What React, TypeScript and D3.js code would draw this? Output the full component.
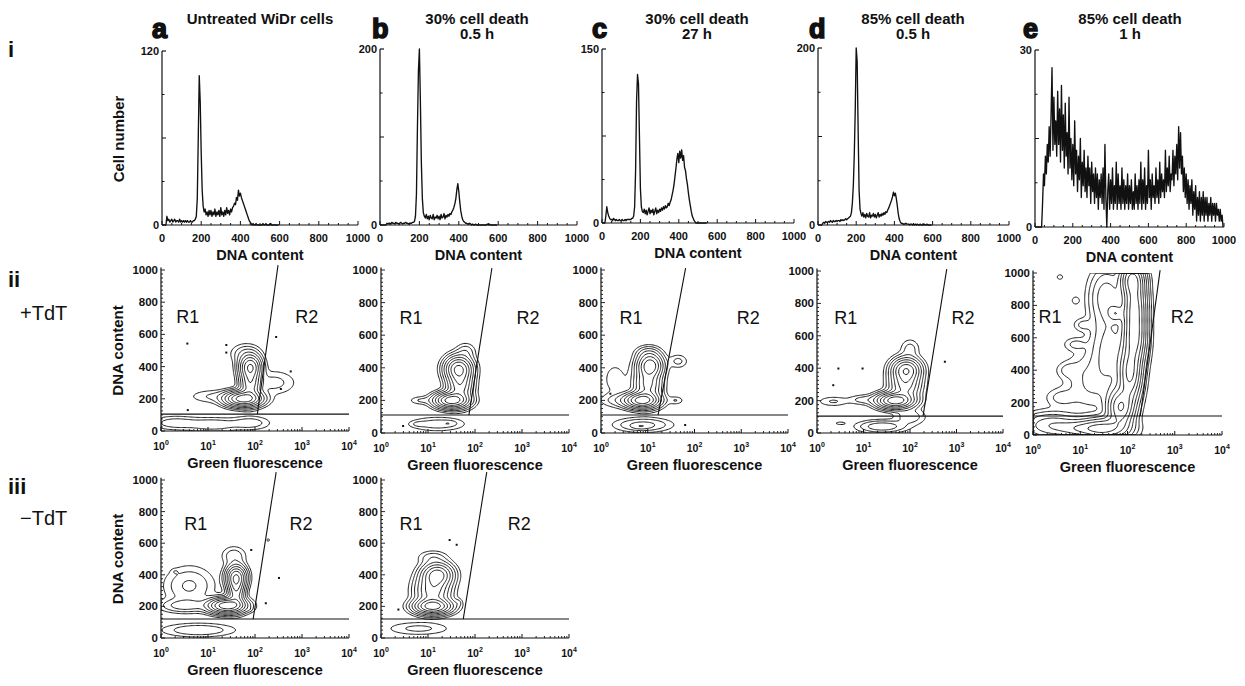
import React from "react";
import * as d3 from "d3";

const W = 1245;
const H = 686;
const FONT = "'Liberation Sans', Arial, Helvetica, sans-serif";
const INK = "#111";

// ---------- row i : DNA histograms, one count every CHANNEL_STEP channels ----------
const CHANNEL_STEP = 5;

const HIST_A = [
  0, 0, 0, 0, 0, 6, 3, 4, 2, 3,
  4, 2, 3, 4, 2, 3, 3, 2, 4, 2,
  3, 2, 3, 2, 3, 2, 3, 2, 2, 3,
  2, 2, 3, 3, 4, 6, 18, 60, 103, 85,
  50, 24, 13, 9, 11, 7, 9, 6, 10, 7,
  10, 6, 9, 7, 11, 6, 9, 7, 10, 6,
  12, 7, 9, 6, 10, 7, 12, 8, 10, 7,
  11, 9, 12, 13, 15, 14, 19, 17, 24, 20,
  22, 19, 17, 15, 13, 11, 9, 7, 5, 3,
  2, 1, 0, 1, 0, 0, 1, 0, 0, 0,
  0, 0, 0, 1, 0, 0, 1, 0, 0, 0,
  0, 1, 0, 0, 0, 0, 0, 0, 0, 0,
];

const HIST_B = [
  0, 0, 0, 0, 0, 0, 0, 2, 1, 2,
  2, 1, 3, 2, 2, 1, 3, 2, 2, 1,
  2, 3, 2, 1, 2, 2, 3, 2, 2, 1,
  2, 2, 2, 3, 3, 4, 10, 35, 110, 175,
  200, 140, 70, 30, 14, 10, 8, 12, 7, 10,
  6, 11, 8, 7, 12, 6, 9, 8, 11, 7,
  10, 6, 12, 8, 9, 13, 7, 11, 9, 12,
  10, 13, 12, 15, 17, 20, 24, 30, 40, 47,
  38, 26, 16, 10, 6, 4, 3, 2, 2, 1,
  1, 2, 1, 0, 1, 0, 0, 1, 0, 0,
  0, 0, 0, 0, 0, 0, 0, 0, 0, 1,
  0, 1, 0, 0, 0, 0, 0, 0, 0, 0,
];

const HIST_C = [
  0, 0, 0, 0, 6, 14, 9, 6, 4, 3,
  3, 2, 4, 3, 2, 3, 2, 2, 3, 2,
  2, 3, 2, 2, 3, 2, 3, 3, 3, 3,
  3, 4, 4, 6, 14, 45, 105, 128, 120, 75,
  30, 14, 10, 9, 12, 8, 11, 7, 10, 13,
  8, 11, 9, 12, 7, 10, 13, 8, 11, 9,
  12, 10, 13, 11, 14, 12, 15, 13, 14, 17,
  15, 18, 20, 24, 28, 33, 40, 47, 55, 60,
  52, 62, 56, 63, 54, 58, 48, 45, 38, 33,
  26, 20, 15, 10, 6, 4, 2, 1, 0, 0,
  0, 0, 0, 0, 0, 0, 0, 0, 0, 0,
];

const HIST_D = [
  0, 0, 0, 0, 0, 2, 3, 2, 4, 3,
  3, 4, 3, 5, 4, 3, 5, 4, 4, 5,
  4, 5, 5, 4, 6, 5, 6, 5, 6, 7,
  6, 7, 8, 9, 10, 14, 25, 45, 80, 130,
  200, 185, 110, 40, 18, 13, 10, 14, 9, 12,
  8, 13, 10, 9, 14, 8, 11, 10, 13, 9,
  12, 8, 11, 14, 9, 12, 10, 13, 11, 14,
  12, 15, 14, 17, 19, 22, 25, 28, 32, 37,
  33, 36, 30, 22, 13, 7, 4, 2, 2, 1,
  1, 1, 2, 1, 1, 1, 0, 1, 1, 0,
  1, 0, 1, 0, 1, 0, 0, 1, 0, 0,
  0, 1, 0, 0, 1, 0, 0, 0, 0, 0,
];

const HIST_E = [
  0, 0, 0, 0, 0, 0, 0, 0, 4, 9,
  7, 12, 9, 14, 11, 17, 12, 19, 27, 13,
  22, 14, 18, 12, 23, 14, 20, 11, 24, 13,
  19, 10, 21, 12, 16, 9, 22, 10, 15, 8,
  14, 7, 18, 9, 13, 6, 12, 8, 15, 5,
  11, 7, 13, 6, 10, 5, 12, 7, 10, 4,
  11, 6, 9, 4, 10, 5, 9, 3, 8, 5,
  9, 4, 10, 3, 14, 5, 0, 6, 9, 3,
  8, 4, 10, 3, 7, 4, 11, 3, 9, 4,
  7, 3, 10, 4, 8, 3, 7, 4, 9, 3,
  7, 4, 8, 3, 6, 3, 9, 4, 7, 3,
  8, 4, 11, 3, 8, 4, 10, 3, 7, 4,
  13, 5, 8, 3, 9, 5, 7, 4, 10, 5,
  8, 4, 11, 5, 9, 6, 8, 5, 13, 6,
  10, 7, 12, 6, 9, 8, 13, 7, 12, 9,
  14, 8, 17, 10, 16, 9, 12, 6, 10, 5,
  9, 4, 8, 3, 7, 4, 8, 2, 6, 3,
  7, 1, 5, 2, 6, 1, 5, 2, 6, 1,
  5, 2, 5, 1, 4, 2, 5, 1, 4, 2,
  4, 1, 4, 2, 3, 1, 3, 1, 2, 0,
];

const HIST_SERIES = [HIST_A, HIST_B, HIST_C, HIST_D, HIST_E];
const HIST_MAX = [120, 200, 150, 200, 30];
const PANEL_LETTERS = ["a", "b", "c", "d", "e"];
const PANEL_TITLES = [
  ["Untreated WiDr cells"],
  ["30% cell death", "0.5 h"],
  ["30% cell death", "27 h"],
  ["85% cell death", "0.5 h"],
  ["85% cell death", "1 h"],
];
const DNA_TICKS = [0, 200, 400, 600, 800, 1000];
const FLUOR_DECADES = [0, 1, 2, 3, 4];

// ---------- rows ii / iii : populations [log10 green, DNA, sd log, sd DNA, peak] ----------
const POP_II_A = [
  [1.75, 200, 0.22, 27, 1.0],
  [1.9, 300, 0.12, 60, 0.5],
  [1.9, 400, 0.13, 42, 0.75],
  [1.8, 480, 0.18, 35, 0.07],
  [2.4, 300, 0.28, 45, 0.05],
  [1.1, 215, 0.3, 25, 0.04],
  [0.3, 50, 0.3, 25, 0.06],
  [1.1, 40, 0.35, 25, 0.07],
  [1.9, 50, 0.25, 25, 0.06],
];
const POP_II_B = [
  [1.5, 200, 0.2, 27, 1.0],
  [1.68, 300, 0.15, 60, 0.5],
  [1.65, 395, 0.16, 42, 0.8],
  [1.8, 500, 0.12, 30, 0.06],
  [0.85, 200, 0.15, 15, 0.04],
  [1.2, 55, 0.35, 25, 0.06],
  [0.8, 55, 0.1, 10, 0.03],
  [1.45, 60, 0.1, 10, 0.03],
];
const POP_II_C = [
  [0.88, 200, 0.2, 27, 1.0],
  [1.0, 300, 0.16, 60, 0.45],
  [1.05, 415, 0.15, 42, 0.75],
  [1.0, 490, 0.15, 25, 0.08],
  [1.65, 440, 0.12, 25, 0.05],
  [1.6, 200, 0.1, 15, 0.04],
  [0.3, 330, 0.2, 80, 0.025],
  [0.55, 200, 0.3, 25, 0.08],
  [0.9, 50, 0.35, 25, 0.1],
  [0.85, 40, 0.12, 10, 0.06],
];
const POP_II_D = [
  [1.68, 200, 0.22, 27, 1.0],
  [1.9, 300, 0.18, 55, 0.45],
  [1.92, 390, 0.17, 40, 0.7],
  [2.0, 520, 0.12, 35, 0.05],
  [0.35, 195, 0.2, 18, 0.04],
  [1.0, 205, 0.2, 18, 0.05],
  [1.4, 40, 0.3, 22, 0.12],
  [2.0, 100, 0.2, 30, 0.06],
  [0.5, 60, 0.12, 10, 0.02],
];
const POP_II_E = [
  [1.5, 40, 0.3, 40, 0.6],
  [1.85, 170, 0.16, 70, 0.8],
  [2.05, 380, 0.14, 100, 0.85],
  [2.15, 600, 0.14, 100, 0.85],
  [2.15, 800, 0.14, 100, 0.85],
  [2.1, 960, 0.14, 60, 0.8],
  [1.75, 750, 0.1, 30, 0.25],
  [1.6, 520, 0.22, 140, 0.18],
  [1.55, 850, 0.2, 100, 0.2],
  [1.2, 330, 0.3, 110, 0.08],
  [0.4, 60, 0.35, 45, 0.22],
  [1.0, 40, 0.3, 30, 0.25],
  [0.6, 230, 0.2, 35, 0.05],
  [0.75, 400, 0.15, 30, 0.045],
  [0.9, 560, 0.15, 25, 0.045],
  [1.05, 680, 0.12, 25, 0.045],
  [0.9, 830, 0.06, 18, 0.03],
  [0.57, 975, 0.05, 12, 0.03],
];
const POP_III_A = [
  [1.4, 205, 0.22, 27, 1.0],
  [1.6, 300, 0.1, 60, 0.45],
  [1.6, 385, 0.12, 42, 0.7],
  [1.55, 520, 0.15, 35, 0.06],
  [0.6, 330, 0.3, 70, 0.08],
  [0.5, 205, 0.3, 25, 0.1],
  [0.8, 50, 0.45, 25, 0.07],
  [0.3, 420, 0.05, 10, 0.02],
  [1.88, 180, 0.05, 10, 0.02],
  [2.28, 620, 0.04, 10, 0.02],
];
const POP_III_B = [
  [1.1, 200, 0.22, 27, 1.0],
  [1.1, 300, 0.2, 60, 0.5],
  [1.2, 400, 0.18, 42, 0.7],
  [1.1, 510, 0.18, 25, 0.06],
  [1.65, 225, 0.05, 15, 0.03],
  [0.8, 60, 0.4, 25, 0.05],
];
const CONTOUR_POPS = [POP_II_A, POP_II_B, POP_II_C, POP_II_D, POP_II_E, POP_III_A, POP_III_B];
const CONTOUR_LEVELS = [0.015, 0.035, 0.07, 0.13, 0.22, 0.35, 0.52, 0.75];

// single events outside the contours [log10 green, DNA]
const DOTS_II_A = [[0.56, 543], [1.39, 534], [1.39, 487], [2.45, 584], [2.76, 370], [2.55, 261], [0.57, 130]];
const DOTS_II_B = [[0.47, 43]];
const DOTS_II_C = [[0.2, 241], [1.8, 49]];
const DOTS_II_D = [[0.46, 398], [2.75, 440], [0.98, 398], [0.35, 295]];
const DOTS_II_E = [];
const DOTS_III_A = [[1.92, 557], [2.51, 380], [2.23, 220]];
const DOTS_III_B = [[1.46, 620], [1.61, 590], [0.37, 180]];
const CONTOUR_DOTS = [DOTS_II_A, DOTS_II_B, DOTS_II_C, DOTS_II_D, DOTS_II_E, DOTS_III_A, DOTS_III_B];

// gates: horizontal DNA level, diagonal [log0, dna0, log1, dna1]
const GATE_DNA = [105, 110, 110, 104, 117, 120, 120];
const GATE_DIAGONALS = [
  [2.05, 105, 2.49, 1030],
  [1.87, 110, 2.36, 1012],
  [1.22, 110, 1.81, 1012],
  [2.28, 104, 2.79, 1012],
  [2.27, 117, 2.69, 1018],
  [1.96, 120, 2.45, 1050],
  [1.75, 120, 2.25, 1050],
];

// ---------- layout ----------
const HIST_FRAMES = [
  { x0: 162, x1: 358, top: 51, bottom: 225, letterX: 152, titleX: 260 },
  { x0: 380, x1: 577, top: 49, bottom: 225, letterX: 372, titleX: 477 },
  { x0: 602, x1: 794, top: 49, bottom: 223, letterX: 592, titleX: 697 },
  { x0: 818, x1: 1009, top: 48, bottom: 225, letterX: 809, titleX: 913 },
  { x0: 1035, x1: 1224, top: 50, bottom: 227, letterX: 1023, titleX: 1130 },
];
const CONTOUR_FRAMES = [
  { x0: 161, x1: 349, y0: 431, y1000: 270, r1: 0.57, r2: 3.1, rDna: 670 },
  { x0: 381, x1: 569, y0: 433, y1000: 270, r1: 0.64, r2: 3.13, rDna: 670 },
  { x0: 601, x1: 788, y0: 433, y1000: 270, r1: 0.64, r2: 3.15, rDna: 670 },
  { x0: 817, x1: 1003, y0: 433, y1000: 271, r1: 0.62, r2: 3.14, rDna: 670 },
  { x0: 1033, x1: 1222, y0: 435, y1000: 273, r1: 0.36, r2: 3.16, rDna: 690 },
  { x0: 161, x1: 349, y0: 638, y1000: 480, r1: 0.74, r2: 2.98, rDna: 683 },
  { x0: 381, x1: 569, y0: 638, y1000: 480, r1: 0.64, r2: 2.94, rDna: 683 },
];

const NX = 160;
const NY = 150;

function contourPaths(pops, xs, ys) {
  const values = new Array(NX * NY);
  for (let j = 0; j < NY; j++) {
    const dna = ((j + 0.5) / NY) * 1000;
    for (let i = 0; i < NX; i++) {
      const lx = ((i + 0.5) / NX) * 4;
      let s = 0;
      for (const [cx, cy, sx, sy, w] of pops) {
        const dx = (lx - cx) / sx;
        const dy = (dna - cy) / sy;
        s += w * Math.exp(-0.5 * (dx * dx + dy * dy));
      }
      values[j * NX + i] = s;
    }
  }
  const max = d3.max(values);
  const gen = d3.contours().size([NX, NY]).thresholds(CONTOUR_LEVELS.map((t) => t * max));
  const proj = d3.geoTransform({
    point(x, y) {
      this.stream.point(xs((x / NX) * 4), ys((y / NY) * 1000));
    },
  });
  const path = d3.geoPath(proj);
  return gen(values).map((c) => path(c));
}

function HistPanel({ k }) {
  const f = HIST_FRAMES[k];
  const data = HIST_SERIES[k];
  const max = HIST_MAX[k];
  const xs = d3.scaleLinear().domain([0, 1000]).range([f.x0, f.x1]);
  const ys = d3.scaleLinear().domain([0, max]).range([f.bottom, f.top]);
  const line = d3
    .line()
    .x((d, i) => xs(i * CHANNEL_STEP))
    .y((d) => ys(d));
  const title = PANEL_TITLES[k];
  const yTicks = [0.25, 0.5, 0.75].map((t) => t * max);
  return (
    <g>
      <text x={f.letterX} y={38} fontSize={27} fontWeight="bold" stroke={INK} strokeWidth={1.6} fill={INK}>
        {PANEL_LETTERS[k]}
      </text>
      {title.map((t, i) => (
        <text key={i} x={f.titleX} y={24 + i * 15} textAnchor="middle" fontSize={15} fontWeight="bold" fill={INK}>
          {t}
        </text>
      ))}
      <path d={line(data)} fill="none" stroke={INK} strokeWidth={1.35} strokeLinejoin="round" />
      <line x1={f.x0} x2={f.x0} y1={f.bottom} y2={f.top} stroke={INK} strokeWidth={1.2} />
      <line x1={f.x0} x2={f.x1} y1={f.bottom} y2={f.bottom} stroke={INK} strokeWidth={1.2} />
      <line x1={f.x0} x2={f.x0 + 4} y1={f.top} y2={f.top} stroke={INK} strokeWidth={1.2} />
      {yTicks.map((t, i) => (
        <line key={i} x1={f.x0} x2={f.x0 + (i === 1 ? 4 : 2.5)} y1={ys(t)} y2={ys(t)} stroke={INK} />
      ))}
      {d3.range(0, 1001, 50).map((v) => (
        <line key={v} x1={xs(v)} x2={xs(v)} y1={f.bottom} y2={f.bottom - (v % 200 === 0 ? 4 : 2)} stroke={INK} />
      ))}
      <text x={f.x0 - 3} y={f.top + 4} textAnchor="end" fontSize={11} fontWeight="bold" fill={INK}>
        {max}
      </text>
      <text x={f.x0 - 3} y={f.bottom + 4} textAnchor="end" fontSize={11} fontWeight="bold" fill={INK}>
        0
      </text>
      {DNA_TICKS.map((v) => (
        <text key={v} x={xs(v)} y={f.bottom + 17} textAnchor="middle" fontSize={11} fontWeight="bold" fill={INK}>
          {v}
        </text>
      ))}
      <text x={(f.x0 + f.x1) / 2} y={f.bottom + 35} textAnchor="middle" fontSize={14.5} fontWeight="bold" fill={INK}>
        DNA content
      </text>
    </g>
  );
}

function ContourPanel({ k }) {
  const f = CONTOUR_FRAMES[k];
  const xs = d3.scaleLinear().domain([0, 4]).range([f.x0, f.x1]);
  const ys = d3.scaleLinear().domain([0, 1000]).range([f.y0, f.y1000]);
  const paths = React.useMemo(() => contourPaths(CONTOUR_POPS[k], xs, ys), [k]);
  const [gx0, gy0, gx1, gy1] = GATE_DIAGONALS[k];
  const clipId = `plot-clip-${k}`;
  const minorX = FLUOR_DECADES.slice(0, -1).flatMap((d) => d3.range(2, 10).map((m) => d + Math.log10(m)));
  const minorY = d3.range(0, 1001, 25);
  return (
    <g>
      <clipPath id={clipId}>
        <rect x={f.x0} y={ys(1000)} width={f.x1 - f.x0} height={f.y0 - ys(1000)} />
      </clipPath>
      <g clipPath={`url(#${clipId})`} fill="none" stroke={INK} strokeWidth={0.95}>
        {paths.map((d, i) => (
          <path key={i} d={d} />
        ))}
      </g>
      {CONTOUR_DOTS[k].map(([lx, dna], i) => (
        <rect key={i} x={xs(lx) - 1} y={ys(dna) - 1} width={2} height={2} fill={INK} />
      ))}
      <line x1={f.x0} x2={f.x1} y1={ys(GATE_DNA[k])} y2={ys(GATE_DNA[k])} stroke={INK} strokeWidth={1.1} />
      <line x1={xs(gx0)} y1={ys(gy0)} x2={xs(gx1)} y2={ys(gy1)} stroke={INK} strokeWidth={1.1} />
      <line x1={f.x0} x2={f.x0} y1={f.y0} y2={ys(1015)} stroke={INK} strokeWidth={1.2} />
      <line x1={f.x0} x2={f.x1} y1={f.y0} y2={f.y0} stroke={INK} strokeWidth={1.2} />
      {minorY.map((v) => (
        <line key={v} x1={f.x0} x2={f.x0 + (v % 200 === 0 ? 4 : 2)} y1={ys(v)} y2={ys(v)} stroke={INK} strokeWidth={0.9} />
      ))}
      {minorX.map((v, i) => (
        <line key={i} x1={xs(v)} x2={xs(v)} y1={f.y0} y2={f.y0 - 2} stroke={INK} strokeWidth={0.9} />
      ))}
      {FLUOR_DECADES.map((d) => (
        <line key={d} x1={xs(d)} x2={xs(d)} y1={f.y0} y2={f.y0 - 4} stroke={INK} />
      ))}
      {DNA_TICKS.map((v) => (
        <text key={v} x={f.x0 - 3} y={ys(v) + 4} textAnchor="end" fontSize={11.5} fontWeight="bold" fill={INK}>
          {v}
        </text>
      ))}
      {FLUOR_DECADES.map((d) => (
        <text key={d} x={xs(d)} y={f.y0 + 19} textAnchor="middle" fontSize={10.5} fontWeight="bold" fill={INK}>
          10
          <tspan fontSize={7} dy={-5}>
            {d}
          </tspan>
        </text>
      ))}
      <text x={(f.x0 + f.x1) / 2} y={f.y0 + 37} textAnchor="middle" fontSize={14.5} fontWeight="bold" fill={INK}>
        Green fluorescence
      </text>
      <text x={xs(f.r1)} y={ys(f.rDna)} textAnchor="middle" fontSize={18} fill={INK}>
        R1
      </text>
      <text x={xs(f.r2)} y={ys(f.rDna)} textAnchor="middle" fontSize={18} fill={INK}>
        R2
      </text>
    </g>
  );
}

export default function App() {
  const rowII = CONTOUR_FRAMES[0];
  const rowIII = CONTOUR_FRAMES[5];
  return (
    <svg
      width={W}
      height={H}
      viewBox={`0 0 ${W} ${H}`}
      fontFamily={FONT}
      style={{ position: "absolute", left: 0, top: 0, background: "#fff" }}
    >
      <rect width={W} height={H} fill="#fff" />
      <text x={8} y={57} fontSize={22} fontWeight="bold" fill={INK}>i</text>
      <text x={8} y={287} fontSize={22} fontWeight="bold" fill={INK}>ii</text>
      <text x={20} y={320} fontSize={20} fill={INK}>+TdT</text>
      <text x={8} y={494} fontSize={22} fontWeight="bold" fill={INK}>iii</text>
      <text x={20} y={525} fontSize={20} fill={INK}>−TdT</text>
      <text transform="translate(124,139) rotate(-90)" textAnchor="middle" fontSize={15} fontWeight="bold" fill={INK}>
        Cell number
      </text>
      <text
        transform={`translate(123,${(rowII.y0 + rowII.y1000) / 2}) rotate(-90)`}
        textAnchor="middle"
        fontSize={15}
        fontWeight="bold"
        fill={INK}
      >
        DNA content
      </text>
      <text
        transform={`translate(123,${(rowIII.y0 + rowIII.y1000) / 2}) rotate(-90)`}
        textAnchor="middle"
        fontSize={15}
        fontWeight="bold"
        fill={INK}
      >
        DNA content
      </text>
      {HIST_SERIES.map((_, k) => (
        <HistPanel key={k} k={k} />
      ))}
      {CONTOUR_FRAMES.map((_, k) => (
        <ContourPanel key={k} k={k} />
      ))}
    </svg>
  );
}
